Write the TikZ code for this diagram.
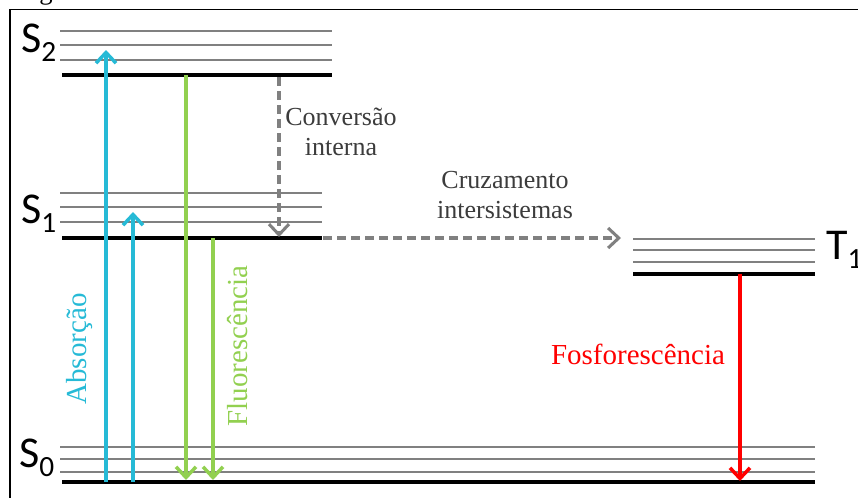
\documentclass[tikz,border=0pt]{standalone}
\usepackage{fontspec}
\setmainfont{Liberation Serif}
\newfontfamily\levelfont{Carlito}
\usetikzlibrary{arrows.meta,positioning}
\definecolor{absblue}{RGB}{38,186,214}
\definecolor{fluogreen}{RGB}{146,208,80}
\definecolor{convgray}{RGB}{128,128,128}
\definecolor{lablgray}{RGB}{60,60,60}

\begin{document}
\begin{tikzpicture}[x=0.75pt,y=-0.75pt,
    sublevel/.style={draw=convgray,line width=1.5pt},
    baselevel/.style={draw=black,line width=3pt},
    radiative/.style={line width=2.6pt,-{Straight Barb[length=8pt,width=15pt,line width=2.6pt]}},
    nonradiative/.style={convgray,line width=2.5pt,dash pattern=on 6.5pt off 4pt,
      -{Straight Barb[length=8pt,width=15pt,line width=2.3pt]}},
    statelabel/.style={inner sep=0pt,anchor=base west,font=\levelfont\fontsize{33}{33}\selectfont},
    proclabel/.style={inner sep=0pt,align=center,text=lablgray,font=\fontsize{19.5}{22.5}\selectfont},
    colorlabel/.style={inner sep=0pt,font=\fontsize{21.75}{24}\selectfont}]
  \useasboundingbox (0,0) rectangle (858,497);

  \node (capg) [inner sep=0pt,anchor=base,font=\fontsize{20}{20}\selectfont] at (46,-1) {g};
  \draw[line width=1.2pt] (10,520) -- (10,9.5) -- (880,9.5);

  \foreach \y in {31,45,60} \draw[sublevel] (60,\y) -- (332,\y);
  \draw[baselevel] (62,75) -- (332,75);
  \foreach \y in {193,207,222} \draw[sublevel] (60,\y) -- (322,\y);
  \draw[baselevel] (62,238) -- (322,238);
  \foreach \y in {447,459,472} \draw[sublevel] (60,\y) -- (815,\y);
  \draw[baselevel] (62,482) -- (815,482);
  \foreach \y in {239,250,262} \draw[sublevel] (633,\y) -- (815,\y);
  \draw[baselevel] (633,274) -- (815,274);

  \node (s2) [statelabel] at (21,52) {S\lower7pt\hbox{\fontsize{22}{22}\selectfont 2}};
  \node (s1) [statelabel] at (21,223) {S\lower7pt\hbox{\fontsize{22}{22}\selectfont 1}};
  \node (s0) [statelabel] at (19,467) {S\lower7pt\hbox{\fontsize{22}{22}\selectfont 0}};
  \node (t1) [statelabel] at (826,259) {T\lower7pt\hbox{\fontsize{22}{22}\selectfont 1}};

  \coordinate (absA0) at (106,482);
  \coordinate (absA1) at (106,50);
  \coordinate (absB0) at (133,482);
  \coordinate (absB1) at (133,212);
  \coordinate (fluA0) at (186,75);
  \coordinate (fluA1) at (186,480);
  \coordinate (fluB0) at (213,238);
  \coordinate (fluB1) at (213,480);
  \coordinate (ic0) at (279,77);
  \coordinate (ic1) at (279,237);
  \coordinate (isc0) at (323,238);
  \coordinate (isc1) at (621,238);
  \coordinate (fos0) at (740,274);
  \coordinate (fos1) at (740,481);

  \draw[radiative,absblue] (absA0) -- (absA1);
  \draw[radiative,absblue] (absB0) -- (absB1);
  \draw[radiative,fluogreen] (fluA0) -- (fluA1);
  \draw[radiative,fluogreen] (fluB0) -- (fluB1);
  \draw[radiative,red] (fos0) -- (fos1);
  \draw[nonradiative] (ic0) -- (ic1);
  \draw[nonradiative] (isc0) -- (isc1);

  \node (conv) [proclabel] at (341,132) {Conversão\\interna};
  \node (cruz) [proclabel] at (505,195) {Cruzamento\\intersistemas};
  \node (fosf) [colorlabel,text=red] at (638,354) {Fosforescência};
  \node (abso) [colorlabel,text=absblue,rotate=90] at (80,349) {Absorção};
  \node (fluo) [colorlabel,text=fluogreen,rotate=90] at (238,346) {Fluorescência};
\end{tikzpicture}
\end{document}
